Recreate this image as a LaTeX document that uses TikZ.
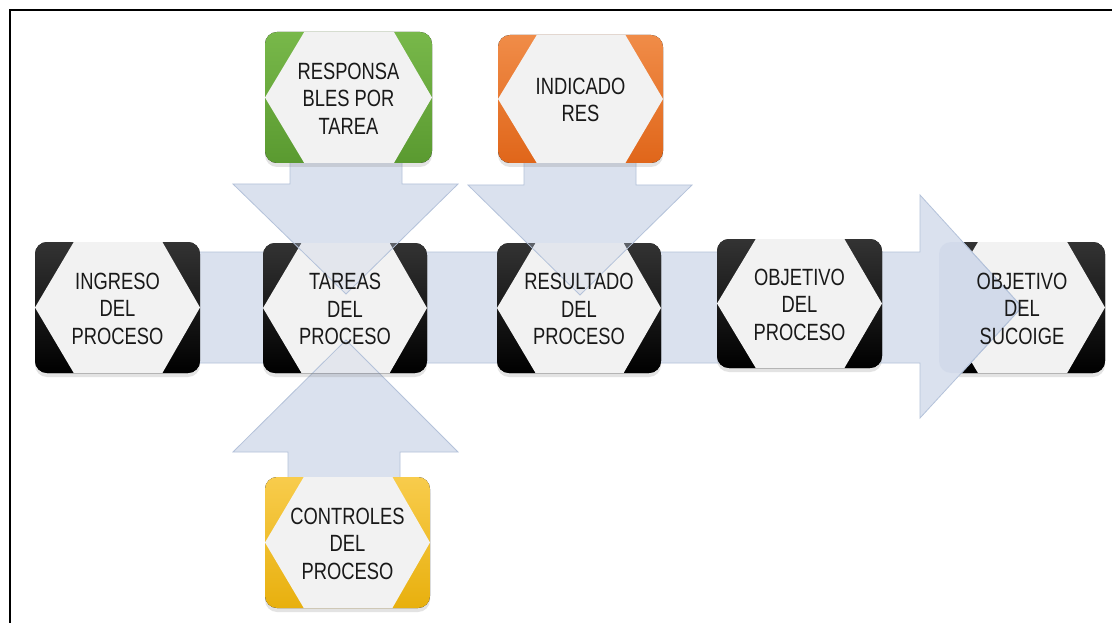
\documentclass[tikz,border=0pt]{standalone}
\usepackage{fontspec}
\setmainfont{Liberation Sans}
\newfontfamily\condfont[FakeStretch=0.78]{Liberation Sans}
\usetikzlibrary{shadows}
\definecolor{arrowfill}{HTML}{DAE1EE}
\definecolor{arrowline}{HTML}{B4C2DA}
\definecolor{tintc}{HTML}{C1CDE3}
\definecolor{hexc}{HTML}{F2F2F2}
\definecolor{blkT}{HTML}{333333}
\definecolor{blkB}{HTML}{000000}
\definecolor{grnT}{HTML}{78B84A}
\definecolor{grnB}{HTML}{5A9A30}
\definecolor{orgT}{HTML}{F08C48}
\definecolor{orgB}{HTML}{E0661A}
\definecolor{ylwT}{HTML}{F8CC4C}
\definecolor{ylwB}{HTML}{E8B00E}
\tikzset{
  arrowshape/.style={fill=arrowfill, draw=arrowline, line width=0.8pt, line join=miter},
  tintshape/.style={fill=tintc, fill opacity=0.3, draw=arrowline, line width=0.8pt},
  boxtext/.style={align=center, font=\condfont\fontsize{23.5}{27.5}\selectfont, text=black!90, inner sep=0pt},
  hexfill/.style={fill=hexc},
}
% background: #1 x1, #2 y1, #3 x2, #4 y2, #5 top colour, #6 bottom colour
\newcommand\hexbg[6]{%
  \fill[rounded corners=12pt, top color=#5, bottom color=#6,
        drop shadow={opacity=0.22, shadow xshift=0pt, shadow yshift=-4pt}]
    (#1,#2) rectangle (#3,#4);
  \fill[hexfill] (#1,{(#2+#4)/2}) -- ({#1+0.235*(#3-#1)},#2) -- ({#3-0.228*(#3-#1)},#2)
    -- (#3,{(#2+#4)/2}) -- ({#3-0.228*(#3-#1)},#4) -- ({#1+0.235*(#3-#1)},#4) -- cycle;
}
% text: #1 name, #2 x1, #3 y1, #4 x2, #5 y2, #6 text
\newcommand\hextext[6]{%
  \node[boxtext] (#1) at ({(#2+#4)/2},{(#3+#5)/2+1}) {#6};
}
\newcommand\harrowpath{(40,252) -- (920,252) -- (920,195) -- (1022,307) -- (920,418) -- (920,363) -- (40,363) -- cycle}
\newcommand\darrowA{(290,150) -- (402,150) -- (402,184) -- (458,184) -- (346,294) -- (233,184) -- (290,184) -- cycle}
\newcommand\darrowB{(524,150) -- (636,150) -- (636,185) -- (692,185) -- (580,295) -- (468,185) -- (524,185) -- cycle}
\newcommand\uarrowC{(288,490) -- (400,490) -- (400,452) -- (458,452) -- (346,340) -- (233,452) -- (288,452) -- cycle}
\begin{document}
\begin{tikzpicture}[x=1pt,y=-1pt]
\useasboundingbox (0,0) rectangle (1112,623);
\fill[white] (0,0) rectangle (1112,623);
% frame (cropped: top and left only)
\draw[line width=2pt] (1112,10) -- (10,10) -- (10,623);
% box behind the arrow head
\hexbg{939}{242}{1105}{373}{blkT}{blkB}
% arrows
\path[arrowshape] \harrowpath;
\path[arrowshape] \darrowA;
\path[arrowshape] \darrowB;
\path[arrowshape] \uarrowC;
% tint of arrow head over last box
\begin{scope}
  \clip[rounded corners=12pt] (939,242) rectangle (1105,373);
  \path[tintshape] \harrowpath;
\end{scope}
% main process boxes
\hexbg{35}{242}{200}{373}{blkT}{blkB}
\hexbg{263}{243}{427}{373}{blkT}{blkB}
\hexbg{497}{243}{661}{373}{blkT}{blkB}
\hexbg{717}{239}{882}{368}{blkT}{blkB}
% tint of vertical arrow heads over boxes
\begin{scope}
  \clip[rounded corners=12pt] (263,243) rectangle (427,373);
  \path[tintshape] \darrowA;
  \path[tintshape] \uarrowC;
\end{scope}
\begin{scope}
  \clip[rounded corners=12pt] (497,243) rectangle (661,373);
  \path[tintshape] \darrowB;
\end{scope}
% coloured boxes
\hexbg{265}{32}{432}{163}{grnT}{grnB}
\hexbg{498}{35}{663}{163}{orgT}{orgB}
\hexbg{265}{477}{430}{608}{ylwT}{ylwB}
% texts
\hextext{sucoige}{939}{242}{1105}{373}{OBJETIVO\\DEL\\SUCOIGE}
\hextext{ingreso}{35}{242}{200}{373}{INGRESO\\DEL\\PROCESO}
\hextext{tareas}{263}{243}{427}{373}{TAREAS\\DEL\\PROCESO}
\hextext{resultado}{497}{243}{661}{373}{RESULTADO\\DEL\\PROCESO}
\hextext{objetivo}{717}{239}{882}{368}{OBJETIVO\\DEL\\PROCESO}
\hextext{responsables}{265}{32}{432}{163}{RESPONSA\\BLES POR\\TAREA}
\hextext{indicadores}{498}{35}{663}{163}{INDICADO\\RES}
\hextext{controles}{265}{477}{430}{608}{CONTROLES\\DEL\\PROCESO}
\end{tikzpicture}
\end{document}
